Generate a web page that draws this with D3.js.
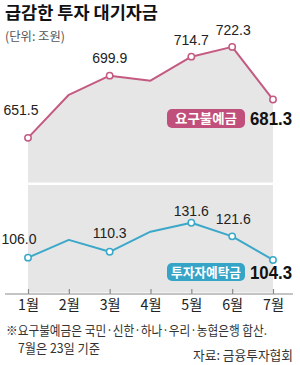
<!DOCTYPE html>
<html>
<head>
<meta charset="utf-8">
<script src="https://cdn.jsdelivr.net/npm/d3@7"></script>
<style>
  body { margin: 0; background: #fff; }
  svg { display: block; }
</style>
</head>
<body>
<div id="wrapper"></div>
<script>
// data
const months = ["1월", "2월", "3월", "4월", "5월", "6월", "7월"]
const demandDeposit = [651.5, 685.0, 699.9, 696.0, 714.7, 722.3, 681.3]   // 요구불예금
const investorDeposit = [106.0, 119.0, 110.3, 125.0, 131.6, 121.6, 104.3] // 투자자예탁금
const demandLabels = ["651.5", null, "699.9", null, "714.7", "722.3", null]
const investorLabels = ["106.0", null, "110.3", null, "131.6", "121.6", null]
const demandName = "요구불예금"
const investorName = "투자자예탁금"
const demandLast = "681.3"
const investorLast = "104.3"

// label nudges (px) relative to each point: [dx, dy]
const demandNudge = [[-7, -23], null, [0, -13], null, [0, -12], [1, -12], null]
const investorNudge = [[-9, -14], null, [0, -14], null, [0, -7], [1, -12], null]

const pink = "#c45a82"
const pinkBox = "#c14f7b"
const teal = "#3ba8c9"
const tealBox = "#35a4c7"
const grey = "#e6e6e6"

const width = 300
const height = 365
const font = "'Noto Sans CJK KR', 'Noto Sans', sans-serif"
const numFont = "'Liberation Sans', Arial, sans-serif"

const svg = d3.select("#wrapper")
    .append("svg")
    .attr("width", width)
    .attr("height", height)

const x = d3.scalePoint()
    .domain(months)
    .range([28, 273])

const yTop = d3.scaleLinear()
    .domain([600, 730])
    .range([204, 37])

const yBottom = d3.scaleLinear()
    .domain([80, 140])
    .range([293.2, 211.2])

const panelTopBottom = 182.5
const panelBottomTop = 185
const axisY = 294

// title
svg.append("text")
    .attr("x", 5).attr("y", 19)
    .text("급감한 투자 대기자금")
    .attr("font-family", font)
    .attr("font-weight", "bold")
    .attr("font-size", "17.5px")
    .attr("textLength", 153)
    .attr("lengthAdjust", "spacingAndGlyphs")
    .attr("fill", "#111")

svg.append("text")
    .attr("x", 5).attr("y", 41)
    .text("(단위: 조원)")
    .attr("font-family", font)
    .attr("font-size", "12.5px")
    .attr("textLength", 60)
    .attr("lengthAdjust", "spacingAndGlyphs")
    .attr("fill", "#555")

// grey backgrounds
const area = d3.area()
    .x((d, i) => x(months[i]))
    .y0(panelTopBottom)
    .y1(d => yTop(d))

svg.append("path")
    .datum(demandDeposit)
    .attr("d", area)
    .attr("fill", grey)

svg.append("rect")
    .attr("x", x(months[0]))
    .attr("y", panelBottomTop)
    .attr("width", x(months[6]) - x(months[0]))
    .attr("height", axisY - 1.5 - panelBottomTop)
    .attr("fill", grey)

// x axis
const xAxisGen = d3.axisBottom(x).tickSize(0).tickPadding(0)
const xAxis = svg.append("g")
    .attr("transform", `translate(0,${axisY})`)
    .call(xAxisGen)
xAxis.select(".domain").remove()
xAxis.selectAll("text").remove()

xAxis.append("line")
    .attr("x1", 5).attr("x2", 293)
    .attr("stroke", "#8a8a8a").attr("stroke-width", 1.2)

xAxis.selectAll(".tick").append("line")
    .attr("y1", 0).attr("y2", -5)
    .attr("stroke", "#8a8a8a").attr("stroke-width", 1.2)

xAxis.selectAll(".tick").append("text")
    .attr("y", 16)
    .attr("text-anchor", "middle")
    .text(d => d)
    .attr("font-family", font)
    .attr("font-size", "15px")
    .attr("textLength", 21)
    .attr("lengthAdjust", "spacingAndGlyphs")
    .attr("fill", "#222")

// lines
function drawSeries(values, yScale, color, labels, nudge) {
    const line = d3.line()
        .x((d, i) => x(months[i]))
        .y(d => yScale(d))

    svg.append("path")
        .datum(values)
        .attr("d", line)
        .attr("fill", "none")
        .attr("stroke", color)
        .attr("stroke-width", 2)
        .attr("stroke-linejoin", "round")

    const pts = values.map((v, i) => ({ v, i })).filter(d => labels[d.i] !== null || d.i === values.length - 1)

    svg.append("g")
        .selectAll("circle")
        .data(pts)
        .enter()
        .append("circle")
        .attr("cx", d => x(months[d.i]))
        .attr("cy", d => yScale(d.v))
        .attr("r", 3.2)
        .attr("fill", "#fff")
        .attr("stroke", color)
        .attr("stroke-width", 1.5)

    svg.append("g")
        .selectAll("text")
        .data(pts.filter(d => labels[d.i] !== null))
        .enter()
        .append("text")
        .attr("x", d => x(months[d.i]) + nudge[d.i][0])
        .attr("y", d => yScale(d.v) + nudge[d.i][1])
        .attr("text-anchor", "middle")
        .text(d => labels[d.i])
        .attr("font-family", numFont)
        .attr("font-size", "14px")
        .attr("fill", "#222")
}

drawSeries(demandDeposit, yTop, pink, demandLabels, demandNudge)
drawSeries(investorDeposit, yBottom, teal, investorLabels, investorNudge)

// name tags
function nameTag(name, value, boxY, boxH, color, textLen) {
    const g = svg.append("g")
    g.append("rect")
        .attr("x", 167).attr("y", boxY)
        .attr("width", 78).attr("height", boxH)
        .attr("rx", 5)
        .attr("fill", color)
    g.append("text")
        .attr("x", 206).attr("y", boxY + boxH / 2 + 4.5)
        .attr("text-anchor", "middle")
        .text(name)
        .attr("font-family", font)
        .attr("font-weight", "bold")
        .attr("font-size", "13px")
        .attr("textLength", textLen)
        .attr("lengthAdjust", "spacingAndGlyphs")
        .attr("fill", "#fff")
    g.append("text")
        .attr("x", 250).attr("y", boxY + boxH / 2 + 6.5)
        .text(value)
        .attr("font-family", numFont)
        .attr("font-weight", "bold")
        .attr("font-size", "18px")
        .attr("textLength", 42)
        .attr("lengthAdjust", "spacingAndGlyphs")
        .attr("fill", "#111")
}

nameTag(demandName, demandLast, 109, 19, pinkBox, 62)
nameTag(investorName, investorLast, 263, 18, tealBox, 70)

// footnotes
svg.append("text")
    .attr("x", 6).attr("y", 335)
    .text("※요구불예금은 국민·신한·하나·우리·농협은행 합산.")
    .attr("font-family", font)
    .attr("font-size", "13px")
    .attr("textLength", 261)
    .attr("lengthAdjust", "spacingAndGlyphs")
    .attr("fill", "#333")

svg.append("text")
    .attr("x", 18).attr("y", 353)
    .text("7월은 23일 기준")
    .attr("font-family", font)
    .attr("font-size", "13px")
    .attr("textLength", 82)
    .attr("lengthAdjust", "spacingAndGlyphs")
    .attr("fill", "#333")

svg.append("text")
    .attr("x", 293).attr("y", 360)
    .attr("text-anchor", "end")
    .text("자료: 금융투자협회")
    .attr("font-family", font)
    .attr("font-size", "13px")
    .attr("textLength", 100)
    .attr("lengthAdjust", "spacingAndGlyphs")
    .attr("fill", "#333")
</script>
</body>
</html>
